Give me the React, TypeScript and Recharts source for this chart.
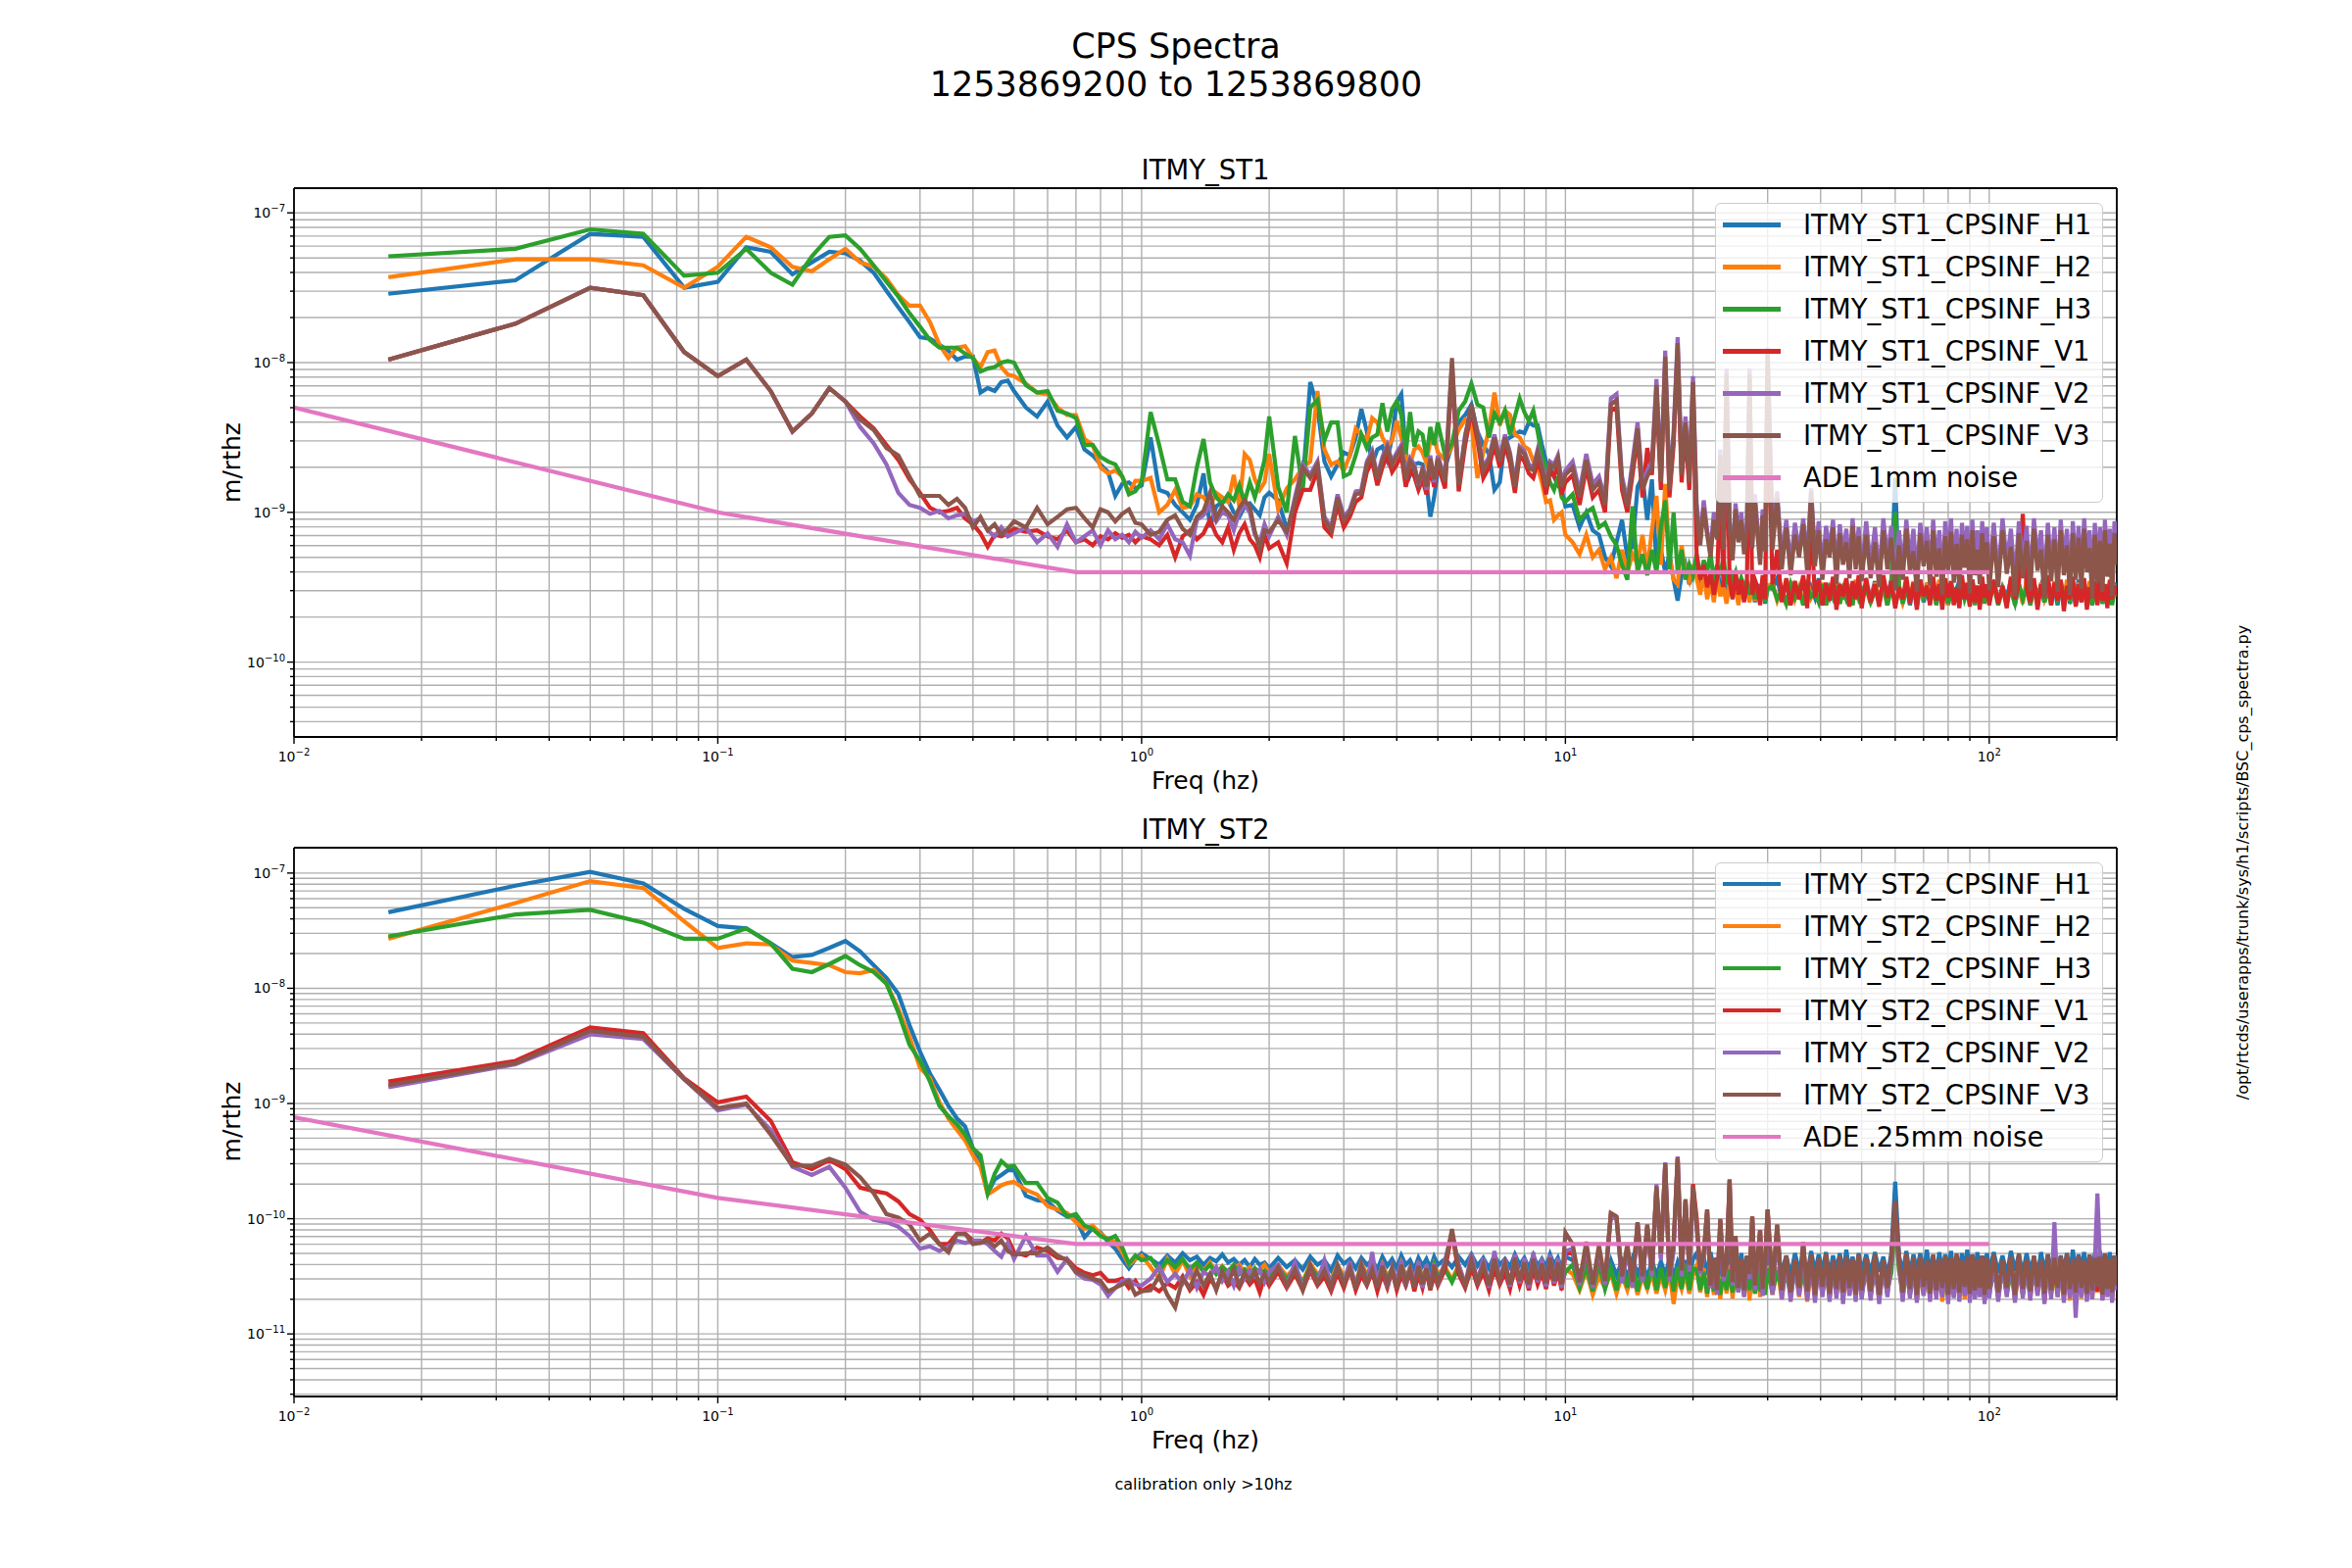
import React from "react";
import {
  CartesianGrid,
  Legend,
  Line,
  LineChart,
  ReferenceLine,
  XAxis,
  YAxis,
} from "recharts";

// ASD values as log10(m/rthz) x 100, e.g. -729 -> 5.1e-8.
const FONT = "DejaVu Sans";
const COLORS = ["#1f77b4", "#ff7f0e", "#2ca02c", "#d62728", "#9467bd", "#8c564b"];
const ADE_COLOR = "#e377c2";

const FREQ = [
  0.0167, 0.0333, 0.05, 0.0667, 0.0833, 0.1, 0.1167, 0.1333, 0.15, 0.1667, 0.1833, 0.2, 0.2167, 0.2333, 0.25,
  0.2667, 0.2833, 0.3, 0.3167, 0.3333, 0.35, 0.3667, 0.3833, 0.4, 0.4167, 0.4333, 0.45, 0.4667, 0.4833, 0.5,
  0.5333, 0.5667, 0.6, 0.6333, 0.6667, 0.7, 0.7333, 0.7667, 0.8, 0.8333, 0.8667, 0.9, 0.9333, 0.9667, 1.0,
  1.05, 1.1, 1.15, 1.2, 1.25, 1.3, 1.35, 1.4, 1.45, 1.5, 1.55, 1.6, 1.65, 1.7, 1.75, 1.8, 1.85, 1.9, 1.95, 2.0,
  2.1, 2.2, 2.3, 2.4, 2.5, 2.6, 2.7, 2.8, 2.9, 3.0, 3.1, 3.2, 3.3, 3.4, 3.5, 3.6, 3.7, 3.8, 3.9, 4.0,
  4.1, 4.2, 4.3, 4.4, 4.5, 4.6, 4.7, 4.8, 4.9, 5.0,
  5.2, 5.4, 5.6, 5.8, 6.0, 6.2, 6.4, 6.6, 6.8, 7.0, 7.2, 7.4, 7.6, 7.8, 8.0, 8.2, 8.4, 8.6, 8.8, 9.0,
  9.2, 9.4, 9.6, 9.8, 10,
  10.4, 10.8, 11.2, 11.6, 12, 12.4, 12.8, 13.2, 13.6, 14, 14.4, 14.8, 15.2, 15.6, 16, 16.4, 16.8, 17.2, 17.6, 18,
  18.4, 18.8, 19.2, 19.6, 20,
  20.4, 20.8, 21.2, 21.6, 22.0, 22.4, 22.8, 23.2, 23.6, 24.0, 24.4, 24.8, 25.2, 25.6, 26.0, 26.4, 26.8, 27.2, 27.6, 28.0,
  28.4, 28.8, 29.2, 29.6, 30.0,
  30.8, 31.6, 32.4, 33.2, 34.0, 34.8, 35.6, 36.4, 37.2, 38.0, 38.8, 39.6, 40.4, 41.2, 42.0, 42.8, 43.6, 44.4, 45.2, 46.0,
  46.8, 47.6, 48.4, 49.2, 50.0,
  51.25, 52.5, 53.75, 55, 56.25, 57.5, 58.75, 60, 61.25, 62.5, 63.75, 65, 66.25, 67.5, 68.75, 70, 71.25, 72.5, 73.75, 75,
  76.25, 77.5, 78.75, 80, 81.25, 82.5, 83.75, 85, 86.25, 87.5, 88.75, 90, 91.25, 92.5, 93.75, 95, 96.25, 97.5, 98.75, 100,
  102.5, 105, 107.5, 110, 112.5, 115, 117.5, 120, 122.5, 125, 127.5, 130, 132.5, 135, 137.5, 140, 142.5, 145, 147.5, 150,
  152.5, 155, 157.5, 160, 162.5, 165, 167.5, 170, 172.5, 175, 177.5, 180, 182.5, 185, 187.5, 190, 192.5, 195, 197.5, 200,
];

// ---- ITMY_ST1 ----
const ST1_H1 = [
  -754, -745, -714, -716, -750, -746, -723, -726, -741, -733, -726, -727, -732, -740, -752, -763, -773, -783, -784, -788, -792, -798, -796, -796, -820, -817, -819, -813, -812, -819,
  -830, -836, -826, -842, -850, -843, -858, -862, -868, -873, -889, -881, -880, -884, -882,
  -850, -885, -887, -895, -900, -905, -895, -874, -910, -896, -893, -892, -900, -903, -896, -894, -898, -902, -890, -887,
  -892, -911, -900, -880, -813, -830, -866, -876, -868, -860, -862, -850, -831, -846, -868, -858, -856, -865, -850, -826, -821, -860, -875, -868, -867, -868, -880, -903, -890, -872,
  -870, -855, -840, -835, -828, -846, -855, -861, -885, -880, -852, -850, -848, -846, -847, -840, -842, -842, -855, -866, -870, -876, -882, -885, -896,
  -895, -910, -900, -912, -915, -930, -936, -920, -905, -930, -922, -883, -876, -905, -878, -935, -925, -940, -928, -945, -959, -942, -935, -948, -940,
  -935, -948, -940, -955, -944, -952, -938, -950, -946, -958, -942, -953, -948, -960, -944, -955, -950, -958, -945, -960, -948, -956, -944, -961, -949,
  -951, -944, -958, -947, -961, -949, -955, -945, -960, -950, -957, -944, -962, -948, -956, -946, -960, -951, -958, -945, -961, -949, -956, -947, -960,
  -948, -958, -946, -961, -950, -957, -945, -877, -952, -959, -947, -962, -949, -956, -945, -960, -951, -958, -946, -961,
  -948, -957, -950, -962, -947, -956, -951, -960, -946, -958, -949, -961, -945, -957, -950, -962, -947, -956, -951, -959,
  -946, -960, -950, -957, -945, -962, -948, -958, -951, -961, -947, -956, -949, -960, -945, -958, -950, -962, -946, -957,
  -948, -961, -951, -958, -945, -960, -949, -957, -947, -962, -950, -958, -946, -961, -948, -957, -951, -960, -947, -955,
];
const ST1_H2 = [
  -743, -731, -731, -735, -750, -736, -716, -723, -736, -739, -731, -724, -733, -736, -744, -755, -762, -762, -773, -788, -797, -790, -789, -797, -803, -793, -792, -803, -808, -809,
  -814, -820, -821, -830, -835, -835, -851, -855, -870, -874, -872, -876, -887, -879, -879,
  -877, -900, -895, -885, -897, -896, -888, -890, -896, -887, -890, -893, -875, -896, -861, -865, -878, -885, -880, -861,
  -898, -884, -878, -870, -866, -819, -858, -868, -866, -872, -862, -844, -848, -852, -837, -840, -850, -856, -852, -839, -850, -862, -868, -858, -856, -860, -867, -852, -850, -860,
  -865, -856, -845, -838, -840, -877, -860, -845, -820, -842, -832, -835, -848, -850, -856, -858, -866, -870, -880, -893, -892, -905, -902, -900, -915,
  -920, -928, -915, -930, -925, -938, -930, -944, -925, -940, -928, -935, -915, -938, -912, -889, -935, -881, -930, -945, -948, -922, -940, -946, -935,
  -944, -955, -940, -958, -946, -960, -943, -956, -950, -961, -945, -957, -948, -962, -944, -958, -951, -960, -946, -959, -949, -961, -945, -957, -950,
  -947, -959, -951, -962, -946, -958, -950, -961, -945, -957, -952, -960, -947, -962, -949, -958, -946, -961, -951, -957, -948, -962, -945, -959, -950,
  -951, -961, -947, -958, -950, -962, -946, -905, -949, -960, -952, -957, -946, -962, -950, -958, -947, -961, -951, -957,
  -945, -960, -949, -962, -946, -958, -951, -961, -947, -957, -950, -962, -945, -959, -949, -961, -946, -957, -952, -960,
  -947, -958, -951, -962, -946, -957, -950, -961, -945, -959, -949, -962, -947, -958, -951, -960, -946, -957, -950, -962,
  -945, -959, -949, -961, -947, -958, -951, -962, -946, -957, -950, -961, -945, -959, -949, -962, -947, -958, -951, -956,
];
const ST1_H3 = [
  -729, -724, -711, -714, -742, -740, -724, -740, -748, -729, -716, -715, -724, -735, -746, -756, -767, -776, -785, -790, -790, -790, -794, -797, -806, -804, -803, -800, -799, -800,
  -815, -820, -819, -832, -834, -837, -855, -855, -863, -866, -868, -876, -888, -886, -880,
  -833, -855, -878, -878, -893, -896, -870, -851, -880, -890, -894, -888, -892, -882, -893, -880, -890, -878, -865, -836,
  -883, -900, -849, -885, -830, -825, -852, -840, -840, -876, -874, -862, -848, -857, -850, -848, -827, -846, -831, -826, -835, -861, -833, -856, -846, -848, -863, -843, -855, -840,
  -862, -854, -832, -826, -814, -828, -830, -850, -834, -840, -832, -848, -836, -824, -833, -839, -832, -846, -862, -870, -880, -885, -876, -890, -893,
  -888, -905, -900, -897, -910, -907, -916, -922, -935, -945, -896, -940, -928, -942, -925, -940, -910, -892, -938, -900, -940, -925, -945, -935, -942,
  -928, -944, -932, -940, -927, -946, -935, -942, -930, -948, -938, -945, -940, -952, -944, -950, -946, -955, -948, -958, -950, -956, -947, -960, -951,
  -949, -958, -952, -961, -948, -957, -951, -962, -950, -956, -953, -960, -948, -962, -951, -957, -949, -961, -952, -958, -950, -962, -948, -957, -951,
  -950, -960, -953, -957, -948, -962, -951, -900, -949, -961, -952, -958, -950, -962, -948, -957, -953, -960, -949, -962,
  -951, -958, -948, -961, -952, -957, -950, -962, -949, -958, -953, -960, -948, -962, -951, -957, -950, -961, -952, -958,
  -949, -962, -951, -957, -953, -961, -948, -958, -950, -962, -952, -957, -949, -960, -951, -962, -948, -958, -953, -961,
  -950, -957, -949, -962, -951, -958, -948, -960, -952, -962, -950, -957, -949, -961, -953, -958, -948, -962, -951, -956,
];
const ST1_V1 = [
  -798, -774, -750, -755, -793, -809, -798, -819, -846, -834, -817, -826, -836, -844, -855, -865, -878, -887, -897, -900, -899, -897, -904, -908, -914, -923, -915, -916, -914, -911,
  -913, -912, -916, -918, -912, -920, -918, -922, -916, -918, -914, -917, -915, -920, -916,
  -918, -922, -915, -930, -916, -912, -918, -914, -905, -915, -920, -910, -925, -914, -908, -918, -922, -930, -915, -924,
  -920, -934, -900, -885, -885, -872, -910, -915, -895, -910, -903, -893, -890, -873, -866, -882, -870, -862, -873, -868, -862, -883, -872, -876, -885, -878, -888, -870, -883, -868,
  -884, -805, -886, -855, -832, -852, -877, -870, -855, -870, -855, -867, -887, -862, -866, -874, -877, -866, -874, -888, -872, -876, -868, -888, -880,
  -875, -895, -870, -890, -885, -900, -832, -830, -885, -900, -875, -850, -890, -857, -875, -820, -885, -800, -890, -855, -792, -880, -845, -885, -818,
  -928, -945, -935, -950, -940, -955, -944, -880, -950, -830, -946, -958, -940, -955, -945, -960, -948, -830, -955, -945, -950, -962, -942, -958, -815,
  -948, -925, -960, -944, -962, -946, -958, -942, -964, -905, -957, -945, -962, -947, -959, -943, -965, -948, -956, -944, -963, -946, -958, -942, -964,
  -944, -960, -948, -963, -942, -957, -946, -964, -950, -958, -943, -961, -947, -965, -945, -956, -949, -962, -943, -959,
  -948, -965, -944, -957, -946, -962, -950, -964, -942, -958, -947, -963, -945, -960, -949, -965, -943, -957, -948, -962,
  -945, -961, -949, -964, -943, -958, -947, -901, -950, -960, -944, -965, -948, -957, -942, -962, -947, -959, -945, -966,
  -949, -958, -943, -963, -948, -960, -944, -965, -950, -957, -946, -962, -943, -959, -948, -964, -945, -958, -949, -955,
];
const ST1_V2 = [
  -798, -774, -750, -755, -793, -809, -798, -819, -846, -834, -817, -826, -843, -854, -868, -887, -895, -897, -901, -899, -904, -902, -901, -906, -904, -912, -916, -910, -916, -914,
  -910, -920, -914, -923, -908, -920, -916, -912, -922, -912, -918, -915, -920, -913, -917,
  -912, -918, -908, -918, -920, -929, -905, -902, -895, -906, -900, -902, -912, -900, -895, -900, -915, -920, -908, -916,
  -903, -915, -890, -868, -875, -866, -903, -910, -888, -903, -898, -886, -885, -866, -859, -876, -863, -855, -866, -860, -855, -876, -864, -868, -882, -870, -885, -862, -880, -862,
  -878, -800, -880, -848, -830, -846, -870, -863, -848, -864, -848, -860, -880, -856, -859, -868, -870, -858, -868, -880, -866, -868, -862, -880, -872,
  -866, -886, -861, -881, -876, -891, -824, -821, -876, -892, -866, -840, -881, -872, -866, -811, -876, -792, -881, -846, -783, -871, -836, -876, -809,
  -894, -918, -892, -912, -925, -900, -914, -858, -920, -804, -905, -928, -894, -915, -900, -924, -908, -804, -920, -888, -910, -930, -898, -922, -790,
  -908, -886, -930, -905, -935, -907, -926, -904, -932, -884, -929, -906, -938, -909, -925, -905, -940, -908, -928, -911, -936, -904, -931, -910, -939,
  -906, -936, -910, -942, -904, -930, -909, -944, -912, -937, -905, -933, -911, -945, -907, -929, -910, -941, -905, -935,
  -912, -946, -906, -931, -904, -939, -911, -943, -907, -930, -909, -946, -905, -934, -912, -940, -906, -932, -910, -944,
  -907, -942, -904, -933, -911, -947, -906, -936, -909, -944, -904, -931, -912, -948, -907, -938, -910, -945, -905, -934,
  -911, -947, -906, -937, -909, -943, -904, -932, -912, -948, -907, -939, -910, -945, -905, -935, -911, -947, -906, -915,
];
const ST1_V3 = [
  -798, -774, -750, -755, -793, -809, -798, -819, -846, -834, -817, -826, -838, -845, -857, -862, -876, -889, -889, -889, -895, -891, -897, -910, -903, -912, -908, -915, -911, -906,
  -910, -897, -908, -903, -898, -897, -904, -910, -898, -900, -906, -901, -898, -907, -908,
  -915, -913, -905, -902, -911, -915, -903, -899, -887, -904, -896, -900, -905, -897, -892, -896, -913, -924, -912, -913,
  -905, -913, -893, -870, -877, -868, -905, -912, -890, -905, -900, -888, -887, -868, -861, -878, -865, -857, -868, -862, -857, -878, -866, -870, -880, -872, -883, -864, -878, -864,
  -880, -797, -882, -850, -828, -848, -872, -865, -850, -866, -850, -862, -883, -858, -861, -870, -872, -860, -870, -883, -868, -870, -864, -883, -875,
  -870, -890, -865, -885, -880, -895, -828, -825, -880, -896, -870, -844, -885, -876, -870, -815, -880, -796, -885, -850, -787, -875, -840, -880, -813,
  -900, -922, -897, -915, -930, -905, -918, -862, -925, -808, -910, -932, -898, -920, -905, -928, -912, -808, -924, -893, -915, -935, -902, -926, -793,
  -925, -890, -938, -910, -942, -915, -930, -908, -940, -886, -936, -912, -945, -918, -930, -910, -948, -914, -935, -920, -944, -909, -938, -916, -946,
  -915, -944, -920, -950, -912, -938, -917, -952, -922, -945, -911, -940, -926, -953, -914, -936, -919, -949, -912, -943,
  -924, -955, -916, -939, -913, -947, -921, -951, -915, -937, -918, -954, -912, -942, -925, -948, -914, -940, -920, -952,
  -916, -950, -912, -941, -923, -956, -914, -944, -919, -952, -911, -939, -925, -957, -915, -946, -918, -953, -912, -942,
  -922, -955, -914, -945, -917, -951, -911, -940, -924, -957, -915, -947, -919, -953, -912, -943, -921, -956, -914, -935,
];

// ---- ITMY_ST2 ----
const ST2_H1 = [
  -734, -711, -699, -709, -731, -746, -748, -761, -773, -771, -765, -759, -768, -780, -791, -805, -832, -855, -874, -888, -902, -913, -920, -939, -952, -978, -966, -962, -958, -958,
  -980, -984, -985, -993, -998, -1000, -1016, -1008, -1012, -1020, -1026, -1035, -1043, -1035, -1030,
  -1035, -1040, -1032, -1038, -1030, -1036, -1033, -1040, -1034, -1037, -1031, -1038, -1035, -1040, -1036, -1042, -1035, -1040, -1038, -1043,
  -1034, -1042, -1036, -1044, -1033, -1040, -1036, -1045, -1032, -1039, -1035, -1043, -1034, -1040, -1036, -1044, -1033, -1041, -1035, -1043, -1032, -1040, -1036, -1044, -1034, -1041, -1035, -1043, -1033, -1040,
  -1035, -1042, -1033, -1040, -1031, -1041, -1034, -1043, -1032, -1040, -1035, -1042, -1031, -1040, -1034, -1043, -1032, -1041, -1035, -1042, -1031, -1040, -1034, -1043, -1033,
  -1036, -1048, -1035, -1050, -1038, -1052, -1036, -1049, -1037, -1051, -1035, -1048, -1038, -1052, -1036, -1050, -1037, -1049, -1035, -1051, -1038, -1048, -1036, -1052, -1035,
  -1030, -1046, -1033, -1049, -1029, -1045, -1034, -1050, -1031, -1047, -1028, -1048, -1032, -1046, -1030, -1049, -1033, -1045, -1029, -1050, -1031, -1047, -1034, -1046, -1030,
  -1048, -1029, -1046, -1032, -1050, -1030, -1045, -1033, -1049, -1028, -1047, -1031, -1046, -1029, -1050, -1032, -1045, -1030, -1048, -1027, -1046, -1033, -1049, -1030, -1047,
  -1031, -1048, -1029, -1046, -1033, -1050, -1030, -968, -1032, -1047, -1028, -1049, -1031, -1045, -1030, -1048, -1027, -1046, -1032, -1050,
  -1029, -1047, -1031, -1045, -1028, -1049, -1032, -1046, -1030, -1048, -1027, -1047, -1031, -1050, -1029, -1045, -1032, -1048, -1030, -1046,
  -1029, -1047, -1032, -1049, -1028, -1045, -1031, -1048, -1030, -1046, -1033, -1050, -1029, -1047, -1031, -1045, -1028, -1048, -1032, -1046,
  -1030, -1049, -1027, -1047, -1031, -1045, -1029, -1048, -1032, -1046, -1030, -1050, -1028, -1047, -1031, -1045, -1029, -1048, -1032, -1040,
];
const ST2_H2 = [
  -757, -726, -707, -713, -742, -765, -761, -762, -776, -778, -780, -786, -787, -784, -796, -818, -842, -869, -878, -899, -913, -923, -932, -945, -955, -979, -975, -971, -969, -968,
  -975, -979, -989, -992, -995, -1003, -1009, -1006, -1013, -1018, -1020, -1029, -1040, -1035, -1032,
  -1042, -1052, -1035, -1048, -1036, -1050, -1040, -1045, -1038, -1047, -1041, -1048, -1043, -1040, -1046, -1042, -1049, -1044, -1040, -1047,
  -1040, -1050, -1042, -1055, -1039, -1048, -1044, -1053, -1040, -1050, -1043, -1056, -1039, -1048, -1045, -1054, -1040, -1050, -1043, -1055, -1039, -1049, -1044, -1053, -1041, -1050, -1043, -1056, -1040, -1048,
  -1042, -1053, -1040, -1056, -1043, -1050, -1041, -1055, -1044, -1052, -1040, -1057, -1043, -1050, -1041, -1054, -1044, -1052, -1040, -1056, -1043, -1050, -1041, -1058, -1044,
  -1048, -1062, -1045, -1066, -1050, -1060, -1047, -1065, -1049, -1062, -1046, -1066, -1050, -1061, -1047, -1065, -1049, -1062, -1046, -1074, -1050, -1061, -1047, -1065, -1049,
  -1041, -1064, -1043, -1068, -1040, -1066, -1044, -1070, -1042, -1065, -1040, -1069, -1043, -1064, -1041, -1067, -1044, -1071, -1040, -1065, -1042, -1068, -1043, -1064, -1041,
  -1066, -1042, -1070, -1040, -1065, -1043, -1068, -1041, -1072, -1044, -1064, -1040, -1067, -1042, -1069, -1043, -1065, -1041, -1071, -1044, -1066, -1040, -1068, -1042, -1064,
  -1043, -1067, -1041, -1070, -1044, -1065, -1040, -1005, -1042, -1068, -1043, -1064, -1041, -1071, -1044, -1066, -1040, -1069, -1042, -1065,
  -1043, -1072, -1041, -1064, -1044, -1068, -1040, -1066, -1042, -1070, -1043, -1065, -1041, -1069, -1044, -1064, -1040, -1071, -1042, -1066,
  -1041, -1068, -1043, -1065, -1040, -1070, -1044, -1064, -1042, -1069, -1041, -1066, -1043, -1072, -1040, -1065, -1044, -1068, -1042, -1064,
  -1041, -1071, -1043, -1066, -1040, -1069, -1044, -1065, -1042, -1070, -1041, -1064, -1043, -1068, -1040, -1066, -1044, -1071, -1042, -1055,
];
const ST2_H3 = [
  -755, -736, -732, -743, -757, -757, -748, -761, -783, -786, -779, -772, -780, -786, -796, -821, -849, -863, -881, -902, -911, -918, -927, -939, -945, -978, -961, -950, -955, -954,
  -969, -969, -982, -986, -998, -996, -1006, -1009, -1015, -1018, -1015, -1025, -1039, -1032, -1036,
  -1034, -1045, -1036, -1042, -1035, -1044, -1038, -1046, -1040, -1048, -1042, -1046, -1040, -1048, -1044, -1050, -1043, -1047, -1045, -1050,
  -1042, -1052, -1044, -1056, -1041, -1050, -1045, -1055, -1042, -1052, -1044, -1057, -1041, -1050, -1046, -1055, -1042, -1052, -1044, -1056, -1041, -1050, -1045, -1055, -1042, -1052, -1044, -1057, -1041, -1050,
  -1044, -1055, -1042, -1058, -1045, -1052, -1043, -1057, -1046, -1054, -1042, -1058, -1045, -1052, -1043, -1056, -1046, -1054, -1042, -1058, -1045, -1052, -1043, -1057, -1046,
  -1040, -1060, -1042, -1063, -1039, -1061, -1043, -1062, -1040, -1060, -1038, -1063, -1042, -1061, -1039, -1062, -1043, -1060, -1040, -1063, -1042, -1061, -1039, -1062, -1043,
  -1044, -1062, -1046, -1065, -1043, -1063, -1047, -1066, -1045, -1062, -1044, -1064, -1046, -1063, -1043, -1066, -1047, -1062, -1045, -1065, -1044, -1063, -1046, -1066, -1043,
  -1064, -1045, -1062, -1047, -1066, -1044, -1063, -1046, -1065, -1043, -1062, -1047, -1064, -1045, -1066, -1044, -1063, -1046, -1065, -1043, -1062, -1047, -1064, -1045, -1066,
  -1044, -1063, -1046, -1065, -1043, -1062, -1047, -1000, -1045, -1064, -1044, -1066, -1046, -1063, -1043, -1065, -1047, -1062, -1045, -1064,
  -1044, -1066, -1046, -1063, -1043, -1065, -1047, -1062, -1045, -1064, -1044, -1066, -1046, -1063, -1043, -1065, -1047, -1062, -1045, -1064,
  -1046, -1063, -1044, -1065, -1047, -1062, -1043, -1066, -1045, -1064, -1046, -1063, -1044, -1065, -1047, -1062, -1043, -1066, -1045, -1064,
  -1046, -1063, -1044, -1065, -1047, -1062, -1043, -1066, -1045, -1064, -1046, -1063, -1044, -1065, -1047, -1062, -1043, -1066, -1045, -1055,
];
const ST2_V1 = [
  -881, -863, -834, -839, -878, -899, -894, -915, -951, -957, -949, -957, -973, -976, -978, -985, -996, -1001, -1010, -1022, -1022, -1013, -1013, -1019, -1021, -1017, -1019, -1013, -1017, -1029,
  -1032, -1025, -1028, -1034, -1035, -1043, -1047, -1049, -1047, -1054, -1054, -1052, -1060, -1054, -1063,
  -1058, -1063, -1056, -1060, -1050, -1062, -1055, -1066, -1052, -1060, -1048, -1058, -1054, -1060, -1050, -1057, -1052, -1064, -1050, -1058,
  -1046, -1060, -1048, -1062, -1045, -1058, -1050, -1063, -1047, -1060, -1044, -1062, -1049, -1058, -1046, -1063, -1048, -1060, -1045, -1062, -1049, -1058, -1046, -1063, -1048, -1060, -1045, -1062, -1049, -1058,
  -1044, -1012, -1048, -1060, -1042, -1058, -1046, -1062, -1043, -1057, -1047, -1061, -1042, -1058, -1046, -1062, -1043, -1057, -1047, -1061, -1042, -1058, -1046, -1062, -1030,
  -1030, -1056, -1028, -1058, -1031, -1055, -996, -999, -1054, -1028, -1058, -1004, -1053, -1006, -1048, -973, -1034, -953, -1052, -1025, -948, -1048, -984, -1044, -970,
  -999, -1047, -1032, -992, -1060, -1036, -1064, -1001, -1052, -1041, -966, -1057, -1016, -1062, -1036, -1065, -1034, -1050, -998, -1060, -1035, -1010, -1064, -1037, -992,
  -1063, -1006, -1066, -1034, -1068, -1036, -1064, -1022, -1067, -1033, -1069, -1036, -1063, -1032, -1068, -1037, -1065, -1034, -1070, -1035, -1064, -1036, -1069, -1033, -1066,
  -1035, -1067, -1033, -1070, -1037, -1064, -1034, -985, -1036, -1068, -1032, -1065, -1035, -1070, -1034, -1063, -1037, -1068, -1033, -1066,
  -1036, -1064, -1034, -1070, -1035, -1065, -1032, -1068, -1037, -1063, -1034, -1069, -1033, -1066, -1036, -1064, -1034, -1070, -1035, -1065,
  -1033, -1068, -1037, -1064, -1034, -1070, -1032, -1065, -1036, -1067, -1033, -1063, -1037, -1069, -1034, -1066, -1035, -1064, -1033, -1070,
  -1032, -1065, -1036, -1068, -1034, -1064, -1037, -1069, -1033, -1066, -1035, -1063, -1034, -1070, -1032, -1065, -1036, -1068, -1034, -1060,
];
const ST2_V2 = [
  -886, -866, -840, -844, -879, -906, -901, -923, -955, -962, -955, -973, -994, -1001, -1003, -1007, -1015, -1026, -1024, -1028, -1024, -1019, -1021, -1019, -1019, -1022, -1028, -1033, -1021, -1035,
  -1015, -1032, -1032, -1046, -1035, -1047, -1052, -1053, -1057, -1067, -1060, -1054, -1053, -1057, -1058,
  -1052, -1042, -1055, -1048, -1056, -1044, -1060, -1046, -1050, -1042, -1054, -1046, -1058, -1043, -1052, -1045, -1050, -1044, -1055, -1046,
  -1040, -1058, -1038, -1060, -1042, -1055, -1036, -1059, -1041, -1056, -1037, -1060, -1040, -1057, -1029, -1058, -1038, -1060, -1042, -1055, -1036, -1059, -1041, -1056, -1037, -1060, -1040, -1057, -1039, -1058,
  -1036, -1012, -1040, -1058, -1030, -1056, -1034, -1060, -1028, -1055, -1035, -1059, -1031, -1056, -1034, -1060, -1029, -1055, -1035, -1059, -1031, -1056, -1034, -1060, -1028,
  -1026, -1058, -1024, -1060, -1027, -1057, -998, -1000, -1056, -1026, -1060, -1004, -1055, -1008, -1050, -970, -1036, -951, -1054, -1028, -946, -1050, -985, -1046, -975,
  -1008, -1048, -1033, -995, -1060, -1037, -1066, -1003, -1054, -1042, -968, -1058, -1018, -1064, -1038, -1068, -1035, -1052, -1000, -1062, -1036, -1012, -1067, -1039, -994,
  -1066, -1008, -1070, -1036, -1072, -1038, -1067, -1024, -1071, -1035, -1073, -1037, -1068, -1034, -1072, -1039, -1069, -1036, -1074, -1037, -1067, -1038, -1072, -1035, -1070,
  -1037, -1071, -1035, -1074, -1039, -1068, -1036, -990, -1038, -1072, -1034, -1069, -1037, -1073, -1036, -1067, -1039, -1072, -1035, -1070,
  -1038, -1068, -1036, -1074, -1037, -1069, -1034, -1072, -1039, -1067, -1036, -1073, -1035, -1070, -1038, -1068, -1036, -1074, -1037, -1069,
  -1035, -1072, -1039, -1068, -1036, -1073, -1034, -1069, -1038, -1071, -1035, -1067, -1039, -1074, -1036, -1070, -1003, -1068, -1037, -1073,
  -1035, -1069, -1038, -1086, -1036, -1068, -1039, -1072, -1035, -1070, -1037, -978, -1036, -1071, -1034, -1068, -1038, -1073, -1035, -1062,
];
const ST2_V3 = [
  -884, -865, -837, -842, -879, -904, -900, -927, -954, -954, -948, -953, -964, -978, -996, -999, -1005, -1019, -1013, -1022, -1029, -1013, -1013, -1022, -1021, -1019, -1024, -1019, -1028, -1031,
  -1030, -1030, -1025, -1032, -1036, -1046, -1049, -1052, -1054, -1063, -1060, -1057, -1054, -1066, -1063,
  -1062, -1050, -1066, -1077, -1052, -1060, -1045, -1058, -1048, -1062, -1046, -1055, -1044, -1058, -1047, -1054, -1046, -1056, -1048, -1055,
  -1042, -1058, -1044, -1062, -1040, -1056, -1045, -1060, -1041, -1057, -1043, -1061, -1040, -1056, -1044, -1060, -1041, -1057, -1043, -1061, -1040, -1056, -1044, -1060, -1041, -1057, -1043, -1061, -1040, -1056,
  -1040, -1009, -1044, -1058, -1036, -1055, -1040, -1058, -1035, -1054, -1039, -1057, -1034, -1054, -1038, -1057, -1035, -1053, -1039, -1056, -1034, -1054, -1038, -1057, -1012,
  -1022, -1055, -1020, -1057, -1023, -1054, -995, -998, -1050, -1022, -1055, -1003, -1050, -1005, -1045, -972, -1030, -952, -1050, -1020, -947, -1045, -983, -1040, -972,
  -1005, -1045, -1030, -992, -1058, -1034, -1062, -1000, -1050, -1040, -966, -1055, -1015, -1060, -1035, -1062, -1032, -1048, -998, -1058, -1033, -1010, -1061, -1036, -992,
  -1058, -1005, -1062, -1032, -1064, -1035, -1060, -1020, -1063, -1031, -1066, -1034, -1059, -1030, -1065, -1036, -1061, -1032, -1064, -1033, -1060, -1035, -1066, -1031, -1062,
  -1034, -1063, -1031, -1066, -1036, -1060, -1032, -985, -1035, -1064, -1030, -1061, -1034, -1066, -1033, -1059, -1036, -1065, -1031, -1062,
  -1035, -1060, -1032, -1066, -1034, -1061, -1030, -1064, -1036, -1059, -1033, -1065, -1031, -1062, -1035, -1060, -1032, -1066, -1034, -1061,
  -1031, -1064, -1036, -1060, -1033, -1066, -1030, -1061, -1035, -1063, -1032, -1059, -1036, -1065, -1031, -1062, -1034, -1060, -1033, -1066,
  -1030, -1061, -1035, -1064, -1032, -1060, -1036, -1065, -1031, -1062, -1034, -1059, -1033, -1066, -1030, -1061, -1035, -1064, -1032, -1058,
];

// ADE noise floor, piecewise in log-log
const ADE_FREQ = [0.01, 0.1, 0.7, 100];
const ST1_ADE = [-830, -900, -940, -940];
const ST2_ADE = [-912, -982, -1022, -1022];

const ST1_NAMES = ["ITMY_ST1_CPSINF_H1", "ITMY_ST1_CPSINF_H2", "ITMY_ST1_CPSINF_H3", "ITMY_ST1_CPSINF_V1", "ITMY_ST1_CPSINF_V2", "ITMY_ST1_CPSINF_V3"];
const ST2_NAMES = ["ITMY_ST2_CPSINF_H1", "ITMY_ST2_CPSINF_H2", "ITMY_ST2_CPSINF_H3", "ITMY_ST2_CPSINF_V1", "ITMY_ST2_CPSINF_V2", "ITMY_ST2_CPSINF_V3"];

const X_DOMAIN: [number, number] = [0.01, 200];
const X_DECADES = [0.01, 0.1, 1, 10, 100];
const ST1_Y_DOMAIN: [number, number] = [10 ** -10.5, 10 ** -6.835];
const ST1_Y_DECADES = [1e-10, 1e-9, 1e-8, 1e-7];
const ST2_Y_DOMAIN: [number, number] = [10 ** -11.543, 10 ** -6.78];
const ST2_Y_DECADES = [1e-11, 1e-10, 1e-9, 1e-8, 1e-7];

const LINE_W = 4.2;
const asd = (e: number) => 10 ** (e / 100);

// decade ticks plus the 2..9 minors that fall inside the domain
function logTicks(decades: number[], [lo, hi]: [number, number]) {
  const out: number[] = [];
  for (const d of [decades[0] / 10, ...decades]) {
    for (let m = 1; m < 10; m++) {
      const v = d * m;
      if (v >= lo * 0.999 && v <= hi * 1.001) out.push(v);
    }
  }
  return out;
}

const isDecade = (v: number) => {
  const l = Math.log10(v);
  return Math.abs(l - Math.round(l)) < 1e-6;
};
const expLabel = (v: number) => {
  const p = Math.round(Math.log10(v));
  return p < 0 ? `\u2212${-p}` : `${p}`;
};

function XTick({ x, y, payload }: any) {
  const major = isDecade(payload.value);
  return (
    <g>
      <line x1={x} x2={x} y1={y} y2={y + (major ? 7 : 4)} stroke="#000" strokeWidth={1.4} />
      {major && (
        <text x={x} y={y + 25} textAnchor="middle" fontFamily={FONT} fontSize={14} fill="#000">
          10<tspan dy={-6} fontSize={10}>{expLabel(payload.value)}</tspan>
        </text>
      )}
    </g>
  );
}

function YTick({ x, y, payload }: any) {
  const major = isDecade(payload.value);
  return (
    <g>
      <line x1={x} x2={x - (major ? 7 : 4)} y1={y} y2={y} stroke="#000" strokeWidth={1.4} />
      {major && (
        <text x={x - 9} y={y + 5} textAnchor="end" fontFamily={FONT} fontSize={14} fill="#000">
          10<tspan dy={-6} fontSize={10}>{expLabel(payload.value)}</tspan>
        </text>
      )}
    </g>
  );
}

function LegendBox({ items }: { items: { name: string; color: string }[] }) {
  return (
    <div
      style={{
        boxSizing: "border-box",
        width: 396,
        height: 306,
        border: "1.5px solid #cccccc",
        borderRadius: 6,
        background: "rgba(255,255,255,0.8)",
        fontFamily: FONT,
        fontSize: 27.5,
        color: "#000",
      }}
    >
      {items.map((it) => (
        <div key={it.name} style={{ display: "flex", alignItems: "center", height: 43 }}>
          <span style={{ marginLeft: 7, width: 59, height: LINE_W, background: it.color, flex: "none" }} />
          <span style={{ marginLeft: 23, whiteSpace: "nowrap", lineHeight: "43px" }}>{it.name}</span>
        </div>
      ))}
    </div>
  );
}

function SpectraPanel({
  top,
  series,
  names,
  ade,
  adeName,
  yDomain,
  yDecades,
}: {
  top: number;
  series: number[][];
  names: string[];
  ade: number[];
  adeName: string;
  yDomain: [number, number];
  yDecades: number[];
}) {
  const rows = FREQ.map((f, i) => {
    const r: Record<string, number> = { f };
    series.forEach((s, j) => {
      r["s" + j] = asd(s[i]);
    });
    return r;
  });
  const adeRows = ADE_FREQ.map((f, i) => ({ f, v: asd(ade[i]) }));
  const legendItems = [
    ...names.map((name, j) => ({ name, color: COLORS[j] })),
    { name: adeName, color: ADE_COLOR },
  ];

  return (
    <div style={{ position: "absolute", left: 0, top, width: 2400, height: 800 }}>
      <LineChart width={2400} height={800} data={rows} margin={{ top: 192, right: 240, bottom: 8, left: 220 }}>
        <CartesianGrid stroke="#b0b0b0" strokeWidth={1.4} />
        <XAxis
          dataKey="f"
          type="number"
          scale="log"
          domain={X_DOMAIN}
          allowDataOverflow
          ticks={logTicks(X_DECADES, X_DOMAIN)}
          interval={0}
          tick={(p: any) => <XTick {...p} />}
          tickLine={false}
          tickSize={0}
          tickMargin={0}
          axisLine={{ stroke: "#000", strokeWidth: 1.8 }}
          height={40}
        />
        <YAxis
          type="number"
          scale="log"
          domain={yDomain}
          allowDataOverflow
          ticks={logTicks(yDecades, yDomain)}
          interval={0}
          tick={(p: any) => <YTick {...p} />}
          tickLine={false}
          tickSize={0}
          tickMargin={0}
          axisLine={{ stroke: "#000", strokeWidth: 1.8 }}
          width={80}
        />
        <ReferenceLine x={X_DOMAIN[1]} stroke="#000" strokeWidth={1.8} />
        <ReferenceLine y={yDomain[1]} stroke="#000" strokeWidth={1.8} />
        {names.map((name, j) => (
          <Line
            key={name}
            name={name}
            dataKey={"s" + j}
            type="linear"
            stroke={COLORS[j]}
            strokeWidth={LINE_W}
            dot={false}
            activeDot={false}
            isAnimationActive={false}
          />
        ))}
        <Line
          name={adeName}
          data={adeRows}
          dataKey="v"
          type="linear"
          stroke={ADE_COLOR}
          strokeWidth={LINE_W}
          dot={false}
          activeDot={false}
          isAnimationActive={false}
        />
        <Legend
          layout="vertical"
          align="center"
          verticalAlign="middle"
          wrapperStyle={{ left: 1750, top: 207, width: 396, height: 306 }}
          content={() => <LegendBox items={legendItems} />}
        />
      </LineChart>
    </div>
  );
}

export default function App() {
  const txt = { fontFamily: FONT, fill: "#000" } as const;
  return (
    <div style={{ position: "absolute", left: 0, top: 0, width: 2400, height: 1600, background: "#fff", overflow: "hidden" }}>
      <svg width={2400} height={1600} style={{ position: "absolute", left: 0, top: 0 }}>
        <text x={1200} y={59} fontSize={35} textAnchor="middle" {...txt}>CPS Spectra</text>
        <text x={1200} y={98} fontSize={35} textAnchor="middle" {...txt}>1253869200 to 1253869800</text>
        <text x={1230} y={183} fontSize={27.5} textAnchor="middle" {...txt}>ITMY_ST1</text>
        <text x={1230} y={805} fontSize={25} textAnchor="middle" {...txt}>Freq (hz)</text>
        <text x={1230} y={855.5} fontSize={27.5} textAnchor="middle" {...txt}>ITMY_ST2</text>
        <text x={1230} y={1477.5} fontSize={25} textAnchor="middle" {...txt}>Freq (hz)</text>
        <text transform="translate(236,472) rotate(-90)" fontSize={25} textAnchor="middle" dominantBaseline="central" {...txt}>m/rthz</text>
        <text transform="translate(236,1144.5) rotate(-90)" fontSize={25} textAnchor="middle" dominantBaseline="central" {...txt}>m/rthz</text>
        <text x={1228} y={1520} fontSize={16} textAnchor="middle" {...txt}>calibration only &gt;10hz</text>
        <text transform="translate(2288,880) rotate(-90)" fontSize={16} textAnchor="middle" dominantBaseline="central" {...txt}>
          /opt/rtcds/userapps/trunk/sys/h1/scripts/BSC_cps_spectra.py
        </text>
      </svg>
      <SpectraPanel
        top={0}
        series={[ST1_H1, ST1_H2, ST1_H3, ST1_V1, ST1_V2, ST1_V3]}
        names={ST1_NAMES}
        ade={ST1_ADE}
        adeName="ADE 1mm noise"
        yDomain={ST1_Y_DOMAIN}
        yDecades={ST1_Y_DECADES}
      />
      <SpectraPanel
        top={672.5}
        series={[ST2_H1, ST2_H2, ST2_H3, ST2_V1, ST2_V2, ST2_V3]}
        names={ST2_NAMES}
        ade={ST2_ADE}
        adeName="ADE .25mm noise"
        yDomain={ST2_Y_DOMAIN}
        yDecades={ST2_Y_DECADES}
      />
    </div>
  );
}
